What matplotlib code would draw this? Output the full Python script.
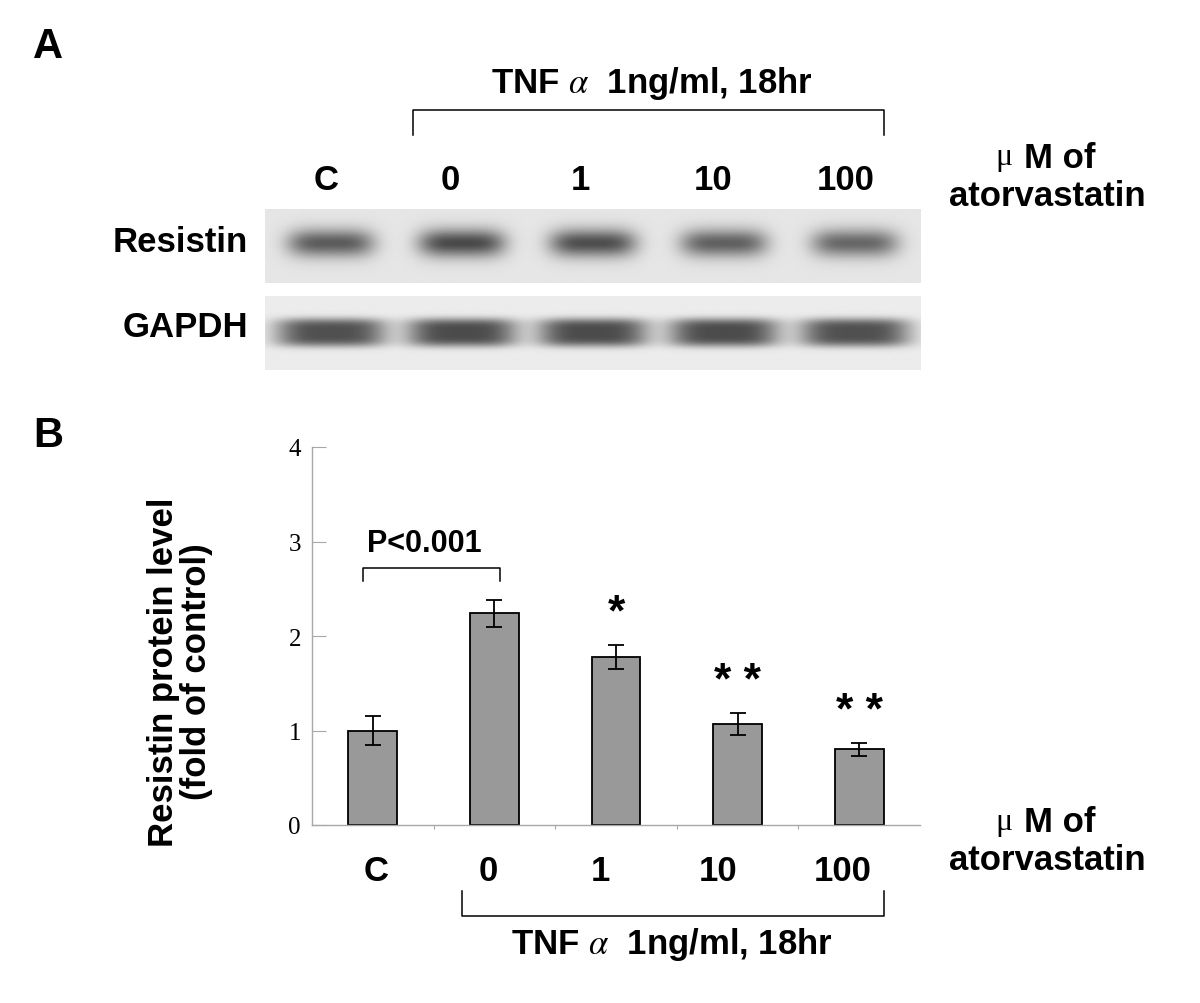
import numpy as np
import matplotlib.pyplot as plt

plt.rcParams['font.family'] = ['Liberation Sans', 'DejaVu Sans']
plt.rcParams['mathtext.fontset'] = 'stix'

# ---- data ----
groups = ['C', '0', '1', '10', '100']
resistin_level = [1.00, 2.24, 1.78, 1.07, 0.80]
resistin_sem = [0.15, 0.14, 0.13, 0.12, 0.07]
signif = ['', '', '*', '**', '**']
yticks = [0, 1, 2, 3, 4]
# relative band darkness on the western blot
resistin_band = [0.60, 0.68, 0.66, 0.58, 0.55]
gapdh_band = [0.66, 0.68, 0.68, 0.68, 0.66]

W, H = 1200, 1004
fig = plt.figure(figsize=(W / 100, H / 100), dpi=100)


def fx(x):
    return x / W


def fy(y):
    return 1 - y / H


def px_axes(x0, y0, x1, y1):
    return fig.add_axes([fx(x0), fy(y1), (x1 - x0) / W, (y1 - y0) / H])


def blot(ax, levels, bg, row, hx, hy, py):
    xs = np.linspace(-0.5, len(levels) - 0.5, 660)
    ys = np.linspace(0, 1, 80)
    X, Y = np.meshgrid(xs, ys)
    img = np.full_like(X, bg)
    for i, lv in enumerate(levels):
        prof = np.exp(-np.abs((X - i) / hx) ** 4) * np.exp(-np.abs((Y - row) / hy) ** py)
        img *= 1 - lv * prof
    ax.imshow(img, cmap='gray', vmin=0, vmax=1, aspect='auto',
              extent=(-0.5, len(levels) - 0.5, 1, 0), interpolation='bilinear')
    ax.axis('off')


# ---- panel A: blot ----
ax_r = px_axes(265, 210, 921, 284)
blot(ax_r, resistin_band, 0.90, 0.46, 0.33, 0.19, 2)
ax_g = px_axes(265, 297, 921, 371)
blot(ax_g, gapdh_band, 0.925, 0.50, 0.42, 0.19, 4)

# ---- panel B: bar chart ----
ax = px_axes(312, 448, 920, 826)
x = np.arange(len(groups))
ax.bar(x, resistin_level, width=0.4, color='#999999', edgecolor='black', linewidth=1.3,
       yerr=resistin_sem, capsize=6,
       error_kw=dict(elinewidth=1.3, capthick=1.3, ecolor='black'))
ax.set_xlim(-0.5, len(groups) - 0.5)
ax.set_ylim(0, 4)
for s in ['top', 'right']:
    ax.spines[s].set_visible(False)
for s in ['left', 'bottom']:
    ax.spines[s].set_color('#a8a8a8')
    ax.spines[s].set_linewidth(1)
ax.set_yticks(yticks)
ax.set_yticklabels([str(v) for v in yticks], family='Liberation Serif', fontsize=18)
ax.tick_params(axis='y', direction='in', length=10, color='#a8a8a8', pad=8)
ax.set_xticks(x[:-1] + 0.5)
ax.set_xticklabels([])
ax.tick_params(axis='x', direction='out', length=3, color='#a8a8a8')

for i, s in enumerate(signif):
    if s:
        ax.text(i, resistin_level[i] + resistin_sem[i] + 0.33, ' '.join(s), ha='center',
                va='center', fontsize=32, fontweight='bold')

ax.plot([-0.08, -0.08, 1.05, 1.05], [2.58, 2.72, 2.72, 2.58], color='black', lw=1.1)
ax.text(0.42, 2.98, 'P<0.001', ha='center', va='center', fontsize=22, fontweight='bold')

# ---- overlay for labels and brackets (pixel coordinates) ----
ov = fig.add_axes([0, 0, 1, 1], zorder=-1)
ov.set_xlim(0, W)
ov.set_ylim(H, 0)
ov.axis('off')

fs = 25
bold = dict(fontweight='bold', ha='center', va='center')
ov.text(48, 47, 'A', fontsize=30, **bold)
ov.text(48, 436, 'B', fontsize=30, **bold)

tnf = r'TNF $\alpha$  1ng/ml, 18hr'
ov.text(652, 84, tnf, fontsize=fs, **bold)
ov.plot([413, 413, 884, 884], [136, 111, 111, 136], color='black', lw=1.1)
top_x = [326, 450, 580, 713, 846]
for xx, g in zip(top_x, groups):
    ov.text(xx, 180, g, fontsize=fs, **bold)

ov.text(248, 242, 'Resistin', fontsize=fs, fontweight='bold', ha='right', va='center')
ov.text(248, 328, 'GAPDH', fontsize=fs, fontweight='bold', ha='right', va='center')

bot_x = [376, 488, 600, 718, 843]
for xx, g in zip(bot_x, groups):
    ov.text(xx, 872, g, fontsize=fs, **bold)
ov.plot([462, 462, 884, 884], [892, 917, 917, 892], color='black', lw=1.1)
ov.text(672, 945, tnf, fontsize=fs, **bold)

for yy in (158, 823):
    ov.text(1004, yy, 'μ', fontsize=23, family='Liberation Serif', ha='center', va='center')
    ov.text(1024, yy, 'M of', fontsize=fs, fontweight='bold', ha='left', va='center')
    ov.text(1047, yy + 38, 'atorvastatin', fontsize=fs, **bold)

fig.text(fx(180), fy(672), 'Resistin protein level\n(fold of control)', rotation=90,
         fontsize=fs, fontweight='bold', ha='center', va='center', linespacing=1.0,
         multialignment='center')

fig.savefig('out.png', dpi=100, facecolor='white')
